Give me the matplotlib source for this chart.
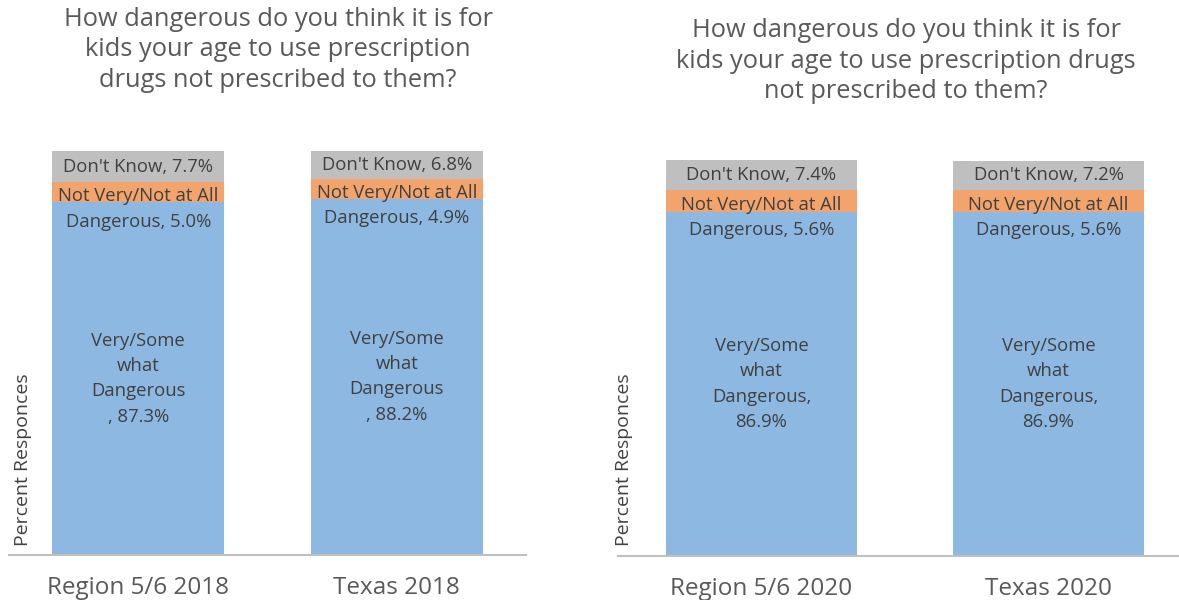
import matplotlib
matplotlib.use("Agg")
import matplotlib.pyplot as plt

# Data
cats_2018 = ["Region 5/6 2018", "Texas 2018"]
very_2018 = [87.3, 88.2]
notvery_2018 = [5.0, 4.9]
dontknow_2018 = [7.7, 6.8]
very_lbl_2018 = ["Very/Some\nwhat\nDangerous\n, 87.3%", "Very/Some\nwhat\nDangerous\n, 88.2%"]

cats_2020 = ["Region 5/6 2020", "Texas 2020"]
very_2020 = [86.9, 86.9]
notvery_2020 = [5.6, 5.6]
dontknow_2020 = [7.4, 7.2]
very_lbl_2020 = ["Very/Some\nwhat\nDangerous,\n86.9%", "Very/Some\nwhat\nDangerous,\n86.9%"]

title_left = "How dangerous do you think it is for\nkids your age to use prescription\ndrugs not prescribed to them?"
title_right = "How dangerous do you think it is for\nkids your age to use prescription drugs\nnot prescribed to them?"

BLUE = "#8db8e2"
ORANGE = "#f2a46c"
GRAY = "#bfbfbf"
TXT = "#404040"
FONT = "Open Sans"

W, H = 1179, 600
fig = plt.figure(figsize=(W / 100, H / 100), dpi=100)


def px_axes(x0, x1, ytop, ybot):
    return fig.add_axes([x0 / W, 1 - ybot / H, (x1 - x0) / W, (ybot - ytop) / H])


def panel(ax, cats, very, notvery, dk, very_lbls):
    x = list(range(len(cats)))
    w = 0.665
    ax.bar(x, very, w, color=BLUE, zorder=2)
    ax.bar(x, notvery, w, bottom=very, color=ORANGE, zorder=2)
    b2 = [a + b for a, b in zip(very, notvery)]
    ax.bar(x, dk, w, bottom=b2, color=GRAY, zorder=2)
    ax.set_xlim(-0.5, 1.5)
    ax.set_ylim(0, 100)
    for s in ["top", "right", "left"]:
        ax.spines[s].set_visible(False)
    ax.spines["bottom"].set_color("#bfbfbf")
    ax.spines["bottom"].set_linewidth(1.5)
    ax.set_yticks([])
    ax.set_xticks(x)
    ax.set_xticklabels(cats, fontsize=17.5, color="#595959", family=FONT)
    ax.tick_params(axis="x", length=0, pad=15)
    for i in x:
        ax.text(i, very[i] / 2, very_lbls[i], ha="center", va="center",
                fontsize=13.3, color=TXT, family=FONT, linespacing=1.52, zorder=3)
        ax.annotate(f"Not Very/Not at All\nDangerous, {notvery[i]:.1f}%",
                    (i, very[i] + notvery[i] / 2), xytext=(0, -12),
                    textcoords="offset points", ha="center", va="center",
                    fontsize=13.3, color=TXT, family=FONT, linespacing=1.52, zorder=3)
        ax.text(i, b2[i] + dk[i] / 2, f"Don't Know, {dk[i]:.1f}%", ha="center",
                va="center", fontsize=13.3, color=TXT, family=FONT, zorder=3)


ax1 = px_axes(9, 526, 151, 555)
panel(ax1, cats_2018, very_2018, notvery_2018, dontknow_2018, very_lbl_2018)
ax2 = px_axes(618, 1192, 160, 556)
panel(ax2, cats_2020, very_2020, notvery_2020, dontknow_2020, very_lbl_2020)

fig.text(278 / W, 1 - 50 / H, title_left, ha="center", va="center", fontsize=18.3,
         color="#595959", family=FONT, linespacing=1.28)
fig.text(906 / W, 1 - 61 / H, title_right, ha="center", va="center", fontsize=18.3,
         color="#595959", family=FONT, linespacing=1.28)

fig.text(23 / W, 1 - 460 / H, "Percent Responces", rotation=90, ha="center",
         va="center", fontsize=14, color=TXT, family=FONT)
fig.text(624 / W, 1 - 460 / H, "Percent Responces", rotation=90, ha="center",
         va="center", fontsize=14, color=TXT, family=FONT)

fig.savefig("out.png", dpi=100, facecolor="white")
